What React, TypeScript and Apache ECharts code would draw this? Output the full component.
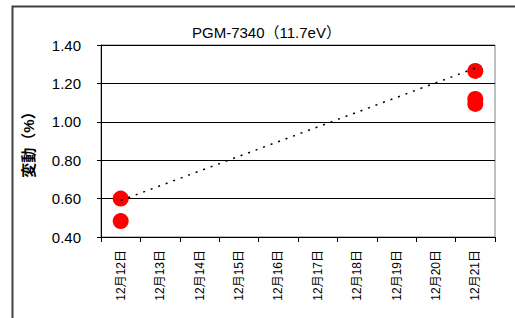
import React, { useEffect, useRef } from "react";
import * as echarts from "echarts";

const categories = ["12月12日", "12月13日", "12月14日", "12月15日", "12月16日", "12月17日", "12月18日", "12月19日", "12月20日", "12月21日"];
const pointsDay = ["12月12日", "12月12日", "12月21日", "12月21日", "12月21日"];
const pointsValue = [0.6, 0.483, 1.265, 1.119, 1.093];
const trendDay = ["12月12日", "12月21日"];
const trendValue = [0.59, 1.28];
const yTicks = { min: 0.4, max: 1.4, interval: 0.2 };

export default function App() {
  const ref = useRef<HTMLDivElement>(null);
  useEffect(() => {
    const chart = echarts.init(ref.current!, null, { renderer: "svg" });
    const font = "'Liberation Sans', 'Noto Sans CJK JP', sans-serif";
    chart.setOption({
      animation: false,
      backgroundColor: "#fff",
      title: {
        text: "PGM-7340（11.7eV）",
        left: 187,
        top: 20,
        textStyle: { fontFamily: font, fontSize: 15, fontWeight: "normal", color: "#000" },
      },
      graphic: [
        {
          type: "rect",
          shape: { x: 12.5, y: 6.5, width: 700, height: 500 },
          style: { fill: "none", stroke: "#404040", lineWidth: 2 },
          silent: true,
        },
      ],
      grid: { left: 101, top: 45, width: 394, height: 192, show: true, borderColor: "#808080", borderWidth: 1 },
      xAxis: {
        type: "category",
        data: categories,
        boundaryGap: true,
        axisLine: { lineStyle: { color: "#000", width: 1 } },
        axisTick: { show: true, length: 5, lineStyle: { color: "#000" } },
        axisLabel: { rotate: 90, fontSize: 12, color: "#000", fontFamily: font, margin: 13 },
        splitLine: { show: false },
      },
      yAxis: {
        type: "value",
        min: yTicks.min,
        max: yTicks.max,
        interval: yTicks.interval,
        name: "変動（%）",
        nameLocation: "middle",
        nameRotate: 90,
        nameGap: 65,
        nameTextStyle: { fontFamily: font, fontSize: 15, fontWeight: "bold", color: "#000" },
        axisLine: { show: true, lineStyle: { color: "#000", width: 1 } },
        axisTick: { show: true, length: 4, inside: false, lineStyle: { color: "#000" } },
        axisLabel: {
          fontSize: 15,
          color: "#000",
          fontFamily: font,
          margin: 20,
          formatter: (v: number) => v.toFixed(2),
        },
        splitLine: { show: true, lineStyle: { color: "#000", width: 1 } },
      },
      series: [
        {
          type: "line",
          data: trendDay.map((d, i) => [d, trendValue[i]]),
          showSymbol: false,
          symbol: "none",
          lineStyle: { color: "#000", width: 1.5, type: [2, 6] },
          z: 3,
        },
        {
          type: "scatter",
          data: pointsDay.map((d, i) => [d, pointsValue[i]]),
          symbol: "circle",
          symbolSize: 16,
          itemStyle: { color: "#ff0000", opacity: 1 },
          z: 2,
        },
      ],
    });
    return () => chart.dispose();
  }, []);
  return <div ref={ref} style={{ position: "fixed", left: 0, top: 0, width: 515, height: 318 }} />;
}
